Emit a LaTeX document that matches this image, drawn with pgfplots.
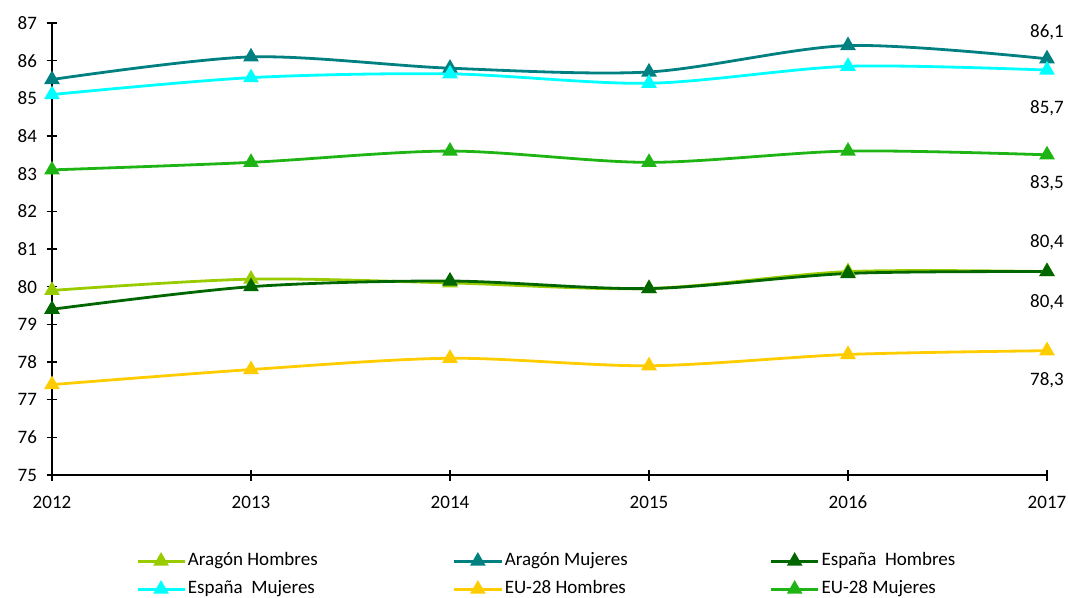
\documentclass[border=0pt]{standalone}
\usepackage{pgfplots}
\pgfplotsset{compat=1.18}
\usepackage{fontspec}
\setmainfont{Carlito}
\definecolor{arH}{RGB}{153,204,0}
\definecolor{arM}{RGB}{0,128,128}
\definecolor{esH}{RGB}{0,102,0}
\definecolor{esM}{RGB}{0,255,255}
\definecolor{euH}{RGB}{255,204,0}
\definecolor{euM}{RGB}{30,180,20}
\begin{document}
\begin{tikzpicture}[font=\fontsize{19bp}{23bp}\selectfont]
\useasboundingbox (-52bp,-123bp) rectangle (1016bp,475bp);
\begin{axis}[
  scale only axis, width=995bp, height=452bp,
  at={(0,0)}, anchor=south west,
  xmin=2012, xmax=2017, ymin=75, ymax=87,
  xtick={2012,2013,2014,2015,2016,2017},
  ytick={75,76,...,87},
  axis x line=bottom, axis y line=left,
  axis line style={-, line width=1.4bp, black},
  tick style={line width=1.4bp, black},
  major tick length=11bp, tick align=center,
  xticklabel style={yshift=-12bp},
  yticklabel style={xshift=-6bp},
  /pgf/number format/assume math mode=true,
  /pgf/number format/1000 sep={},
  clip=false,
  every axis plot/.append style={line width=2.8bp, smooth, tension=0.5, mark=triangle*, mark size=6.3bp},
  legend image code/.code={\draw[mark repeat=2,mark phase=2] plot coordinates {(0bp,0bp)(23.5bp,0bp)(47bp,0bp)};},
  legend columns=3,
  legend style={draw=none, inner sep=0pt, at={(0.0844,-0.1648)}, anchor=north west,
    nodes={inner xsep=2bp, inner ysep=2bp, text height=14bp, text depth=5bp},
    row sep=5bp, font=\fontsize{19bp}{23bp}\selectfont},
]
\addplot[color=arH, mark options={fill=arH}] coordinates {(2012,79.9)(2013,80.2)(2014,80.1)(2015,79.95)(2016,80.4)(2017,80.4)};
\addlegendentry{\makebox[263bp][l]{Aragón Hombres}}
\addplot[color=arM, mark options={fill=arM}] coordinates {(2012,85.5)(2013,86.1)(2014,85.8)(2015,85.7)(2016,86.4)(2017,86.05)};
\addlegendentry{\makebox[263bp][l]{Aragón Mujeres}}
\addplot[color=esH, mark options={fill=esH}] coordinates {(2012,79.4)(2013,80.0)(2014,80.15)(2015,79.95)(2016,80.35)(2017,80.4)};
\addlegendentry{\makebox[263bp][l]{España\ \ Hombres}}
\addplot[color=esM, mark options={fill=esM}] coordinates {(2012,85.1)(2013,85.55)(2014,85.65)(2015,85.4)(2016,85.85)(2017,85.75)};
\addlegendentry{\makebox[263bp][l]{España\ \ Mujeres}}
\addplot[color=euH, mark options={fill=euH}] coordinates {(2012,77.4)(2013,77.8)(2014,78.1)(2015,77.9)(2016,78.2)(2017,78.3)};
\addlegendentry{\makebox[263bp][l]{EU-28 Hombres}}
\addplot[color=euM, mark options={fill=euM}] coordinates {(2012,83.1)(2013,83.3)(2014,83.6)(2015,83.3)(2016,83.6)(2017,83.5)};
\addlegendentry{\makebox[263bp][l]{EU-28 Mujeres}}
\node at (axis cs:2017,86.76) {86,1};
\node at (axis cs:2017,84.74) {85,7};
\node at (axis cs:2017,82.75) {83,5};
\node at (axis cs:2017,81.19) {80,4};
\node at (axis cs:2017,79.59) {80,4};
\node at (axis cs:2017,77.52) {78,3};
\end{axis}
\end{tikzpicture}
\end{document}
